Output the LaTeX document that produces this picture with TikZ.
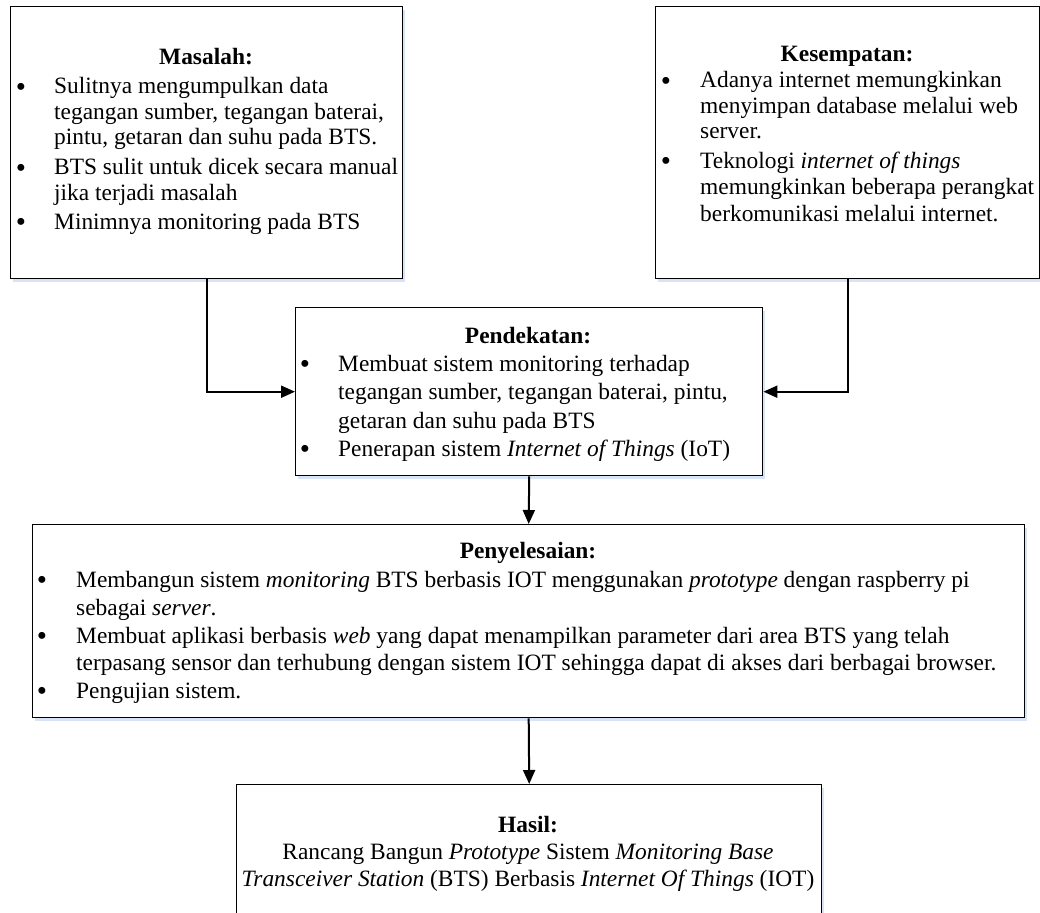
\documentclass[tikz,border=0pt]{standalone}
\usepackage{fontspec}
\setmainfont{Liberation Serif}
\usetikzlibrary{arrows.meta,shadows}
\definecolor{shadowblue}{RGB}{215,228,245}
\newcommand{\bdot}{\raisebox{-2.2pt}{\fontsize{29}{29}\selectfont\textbullet}}
\begin{document}
\begin{tikzpicture}[x=1pt,y=-1pt,
  box/.style={draw=black, line width=1.4pt, fill=white, inner sep=0pt, anchor=north west,
    drop shadow={shadow xshift=2pt, shadow yshift=-3pt, fill=shadowblue, opacity=1}},
  arr/.style={line width=2pt, -{Triangle[length=14pt,width=12pt]}},
  txt/.style={anchor=base west, inner sep=0pt, font=\fontsize{23.4}{28}\selectfont},
  ctr/.style={anchor=base, inner sep=0pt, font=\fontsize{23.4}{28}\selectfont},
  ttl/.style={anchor=base, inner sep=0pt, font=\bfseries\fontsize{23.4}{28}\selectfont},
  bul/.style={anchor=base, inner sep=0pt, font=\fontsize{23.4}{28}\selectfont}]
\useasboundingbox (0,0) rectangle (1040,912);

% boxes
\node[box, minimum width=392pt, minimum height=272pt] (mas) at (10,6) {};
\node[box, minimum width=384pt, minimum height=272pt] (kes) at (655,6) {};
\node[box, minimum width=467pt, minimum height=168pt] (pend) at (295,307) {};
\node[box, minimum width=992pt, minimum height=193pt] (peny) at (32,524) {};
\node[box, minimum width=585pt, minimum height=140pt] (has) at (236,784) {};

% Masalah
\node[ttl] (mt) at (206,65) {Masalah:};
\node[bul] (mb1) at (21,94) {\bdot};
\node[txt] (m1) at (54,94) {Sulitnya mengumpulkan data};
\node[txt] (m2) at (54,120) {tegangan sumber, tegangan baterai,};
\node[txt] (m3) at (54,145) {pintu, getaran dan suhu pada BTS.};
\node[bul] (mb2) at (21,175) {\bdot};
\node[txt] (m4) at (54,175) {BTS sulit untuk dicek secara manual};
\node[txt] (m5) at (54,200) {jika terjadi masalah};
\node[bul] (mb3) at (21,229) {\bdot};
\node[txt] (m6) at (54,229) {Minimnya monitoring pada BTS};

% Kesempatan
\node[ttl] (kt) at (847,62) {Kesempatan:};
\node[bul] (kb1) at (666,88) {\bdot};
\node[txt] (k1) at (700,88) {Adanya internet memungkinkan};
\node[txt] (k2) at (700,114) {menyimpan database melalui web};
\node[txt] (k3) at (700,139) {server.};
\node[bul] (kb2) at (666,168) {\bdot};
\node[txt] (k4) at (700,168) {Teknologi \textit{internet of things}};
\node[txt] (k5) at (700,194) {memungkinkan beberapa perangkat};
\node[txt] (k6) at (700,221) {berkomunikasi melalui internet.};

% Pendekatan
\node[ttl] (pt) at (528,343) {Pendekatan:};
\node[bul] (pb1) at (305,371) {\bdot};
\node[txt] (p1) at (338,371) {Membuat sistem monitoring terhadap};
\node[txt] (p2) at (338,399) {tegangan sumber, tegangan baterai, pintu,};
\node[txt] (p3) at (338,428) {getaran dan suhu pada BTS};
\node[bul] (pb2) at (305,456) {\bdot};
\node[txt] (p4) at (338,456) {Penerapan sistem \textit{Internet of Things} (IoT)};

% Penyelesaian
\node[ttl] (st) at (528,558) {Penyelesaian:};
\node[bul] (sb1) at (42,587) {\bdot};
\node[txt] (s1) at (76,587) {Membangun sistem \textit{monitoring} BTS berbasis IOT menggunakan \textit{prototype} dengan raspberry pi};
\node[txt] (s2) at (76,615) {sebagai \textit{server}.};
\node[bul] (sb2) at (42,643) {\bdot};
\node[txt] (s3) at (76,643) {Membuat aplikasi berbasis \textit{web} yang dapat menampilkan parameter dari area BTS yang telah};
\node[txt] (s4) at (76,670) {terpasang sensor dan terhubung dengan sistem IOT sehingga dapat di akses dari berbagai browser.};
\node[bul] (sb3) at (42,698) {\bdot};
\node[txt] (s5) at (76,698) {Pengujian sistem.};

% Hasil
\node[ttl] (ht) at (528,832) {Hasil:};
\node[ctr] (h1) at (528,859) {Rancang Bangun \textit{Prototype} Sistem \textit{Monitoring Base}};
\node[ctr] (h2) at (528,886) {\textit{Transceiver Station} (BTS) Berbasis \textit{Internet Of Things} (IOT)};

% connectors
\draw[arr] (mas.south) |- (pend.west);
\draw[arr] (kes.south) |- (pend.east);
\draw[arr] (pend.south) -- (peny.north);
\draw[arr] (peny.south) -- (has.north);
\end{tikzpicture}
\end{document}
